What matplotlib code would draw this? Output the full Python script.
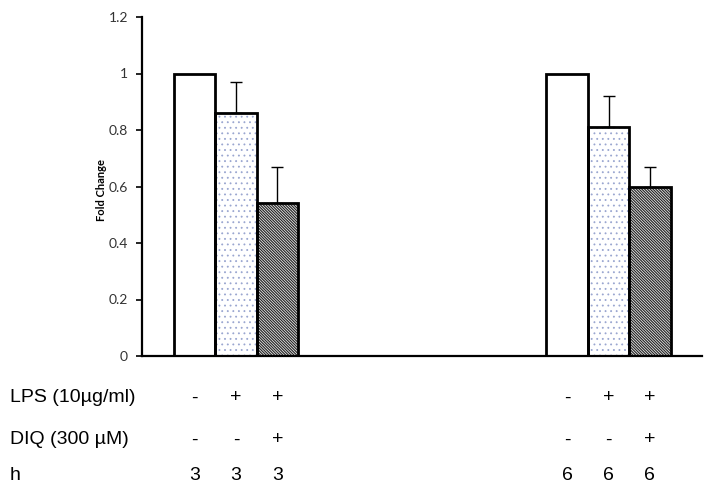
import numpy as np
import matplotlib
matplotlib.use("Agg")
import matplotlib.pyplot as plt
from matplotlib.transforms import blended_transform_factory

# ── Data ─────────────────────────────────────────────────────────────────────
positions = [0, 1, 2, 9, 10, 11]
fold_change = [1.00, 0.86, 0.54, 1.00, 0.81, 0.60]
errors = [0.0, 0.11, 0.13, 0.0, 0.11, 0.07]
has_error = [False, True, True, False, True, True]

lps_row = ["-", "+", "+", "-", "+", "+"]
diq_row = ["-", "-", "+", "-", "-", "+"]
hour_row = ["3", "3", "3", "6", "6", "6"]
row_names = ["LPS (10µg/ml)", "DIQ (300 µM)", "h"]

yticks = [0, 0.2, 0.4, 0.6, 0.8, 1.0, 1.2]
ytick_labels = ["0", "0.2", "0.4", "0.6", "0.8", "1", "1.2"]

# bar styles cycle: empty, dotted, dense diagonal
styles = [
    dict(hatch="", hcolor="black", hlw=0.8),
    dict(hatch="...", hcolor="#9aa6d0", hlw=0.6),
    dict(hatch="\\" * 12, hcolor="#2a2a2a", hlw=0.9),
]

# ── Figure ───────────────────────────────────────────────────────────────────
fig = plt.figure(figsize=(7.16, 5.0), dpi=100)
ax = fig.add_axes([0.1983, 0.288, 0.7817, 0.678])

for i, (x, v) in enumerate(zip(positions, fold_change)):
    st = styles[i % 3]
    plt.rcParams["hatch.linewidth"] = st["hlw"]
    ax.bar(x, v, width=1.0, facecolor="white", edgecolor=st["hcolor"],
           hatch=st["hatch"], linewidth=0, zorder=2)
    # outline drawn separately so hatch colour can differ
    ax.bar(x, v, width=1.0, facecolor="none", edgecolor="black",
           linewidth=2.0, zorder=3)
    if has_error[i]:
        ax.errorbar(x, v, yerr=[[0], [errors[i]]], fmt="none", ecolor="black",
                    elinewidth=1.0, capsize=4, capthick=1.0, zorder=1)

ax.set_xlim(-1.27, 12.25)
ax.set_ylim(0, 1.2)
ax.set_yticks(yticks)
ax.set_yticklabels(ytick_labels, fontfamily="Lato", fontsize=10, color="#333333")
ax.set_xticks([])

for s in ["top", "right"]:
    ax.spines[s].set_visible(False)
ax.spines["left"].set_linewidth(1.6)
ax.spines["bottom"].set_linewidth(1.6)
ax.tick_params(axis="y", direction="out", length=4, width=1.2, pad=6)

ax.set_ylabel("Fold Change", fontfamily="Lato", fontweight="bold",
              fontsize=8, labelpad=0)
ax.yaxis.set_label_coords(-0.062, 0.49)

# ── Condition table under the chart ──────────────────────────────────────────
trans = blended_transform_factory(ax.transData, fig.transFigure)
row_y = [1 - 398 / 500, 1 - 440 / 500, 1 - 476 / 500]
rows = [lps_row, diq_row, hour_row]
font = dict(fontfamily="Liberation Sans", fontsize=14, va="center")

for name, y, vals in zip(row_names, row_y, rows):
    fig.text(10 / 716, y, name, ha="left", **font)
    for x, t in zip(positions, vals):
        ax.text(x, y, t, ha="center", transform=trans, clip_on=False, **font)

fig.savefig("out.png", dpi=100)
